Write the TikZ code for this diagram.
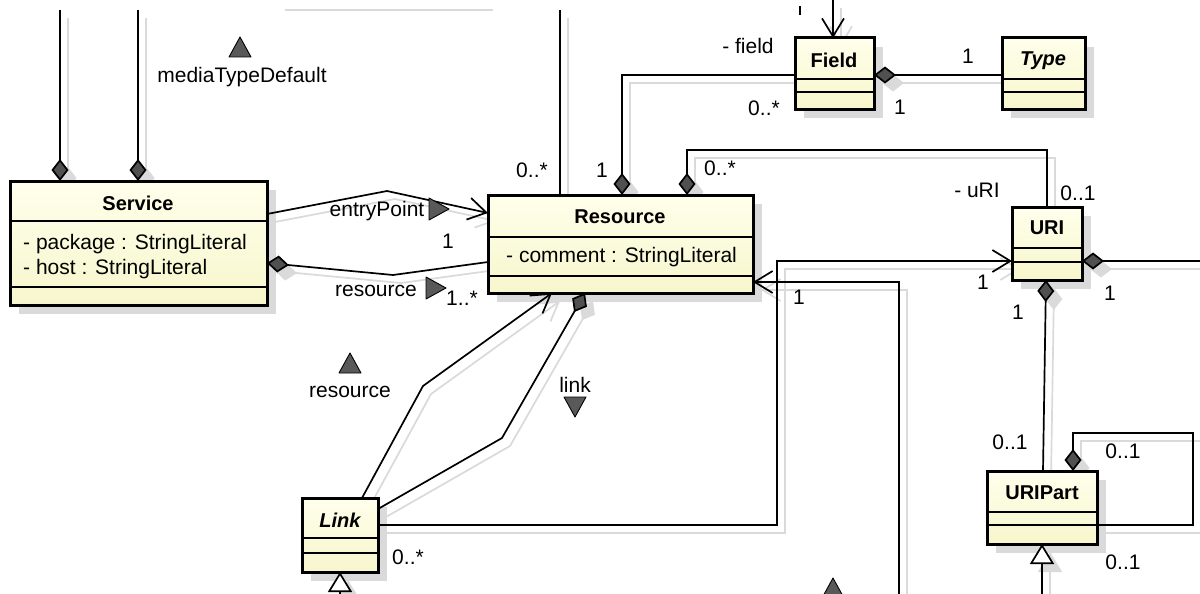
\documentclass[tikz,border=0pt]{standalone}
\usepackage{fontspec}
\setmainfont{Liberation Sans}
\usetikzlibrary{arrows.meta}
\pgfdeclarelayer{canvasbg}
\pgfdeclarelayer{shade}
\pgfsetlayers{canvasbg,shade,main}

\definecolor{shadowc}{RGB}{218,218,218}
\definecolor{boxtop}{RGB}{255,255,236}
\definecolor{boxbot}{RGB}{247,246,204}
\definecolor{dmdfill}{RGB}{80,80,80}
\colorlet{tipfill}{dmdfill}
\colorlet{tipopen}{white}

\tikzset{
  lbl/.style={inner sep=0pt, font=\fontsize{21}{25}\selectfont},
  ttl/.style={inner sep=0pt, font=\fontsize{20}{24}\selectfont\bfseries},
  ttlit/.style={inner sep=0pt, font=\fontsize{20}{24}\selectfont\bfseries\itshape},
  cls/.style={draw=black, line width=3pt, outer sep=0pt, inner sep=0pt,
    anchor=north west, top color=boxtop, bottom color=boxbot},
  sep/.style={line width=2pt},
  conn/.style={line width=1.7pt, line join=miter},
  dmd/.tip={Diamond[length=22pt, width=17pt, fill=tipfill]},
  opn/.tip={Straight Barb[length=18pt, width=22pt]},
  tri/.tip={Triangle[length=20pt, width=24pt, fill=tipopen]},
  dirtri/.style={fill=black!65, draw=black, line width=0.9pt, line join=round},
}

% class box: name, left, top, width, height, first and second compartment offsets
\newcommand\umlclass[7]{%
  \node[cls, minimum width=#4pt, minimum height=#5pt] (#1) at (#2,#3) {};
  \begin{pgfonlayer}{shade}
    \fill[shadowc] ([shift={(9pt,-9pt)}]#1.north west) rectangle ([shift={(9pt,-9pt)}]#1.south east);
  \end{pgfonlayer}
  \draw[sep] ([yshift=-#6pt]#1.north west) -- ([yshift=-#6pt]#1.north east);
  \draw[sep] ([yshift=-#7pt]#1.north west) -- ([yshift=-#7pt]#1.north east);
}

% connector with its drop shadow
\newcommand\conn[2][]{%
  \begin{pgfonlayer}{shade}
    \begin{scope}[transform canvas={shift={(8pt,-8pt)}}]
      \tikzset{dmd/.tip={Diamond[length=22pt, width=17pt, fill=shadowc]},
               tri/.tip={Triangle[length=20pt, width=24pt, fill=shadowc]}}
      \draw[conn, draw=shadowc, #1] #2;
    \end{scope}
  \end{pgfonlayer}
  \draw[conn, #1] #2;
}

% navigability marker: x, y, rotation
\newcommand\dirmark[3]{%
  \filldraw[dirtri, shift={(#1,#2)}, rotate=#3] (-11,10) -- (11,10) -- (0,-10) -- cycle;
}

\begin{document}
\begin{tikzpicture}[x=1pt, y=-1pt]
\useasboundingbox (0,0) rectangle (1200,594);
\begin{pgfonlayer}{canvasbg}
  \fill[white] (0,0) rectangle (1200,594);
\end{pgfonlayer}

% classes
\umlclass{svc}{10}{181}{257}{124}{40}{106}
\umlclass{res}{488}{195}{265}{98}{42}{81}
\umlclass{fld}{795}{38}{79}{71}{41}{54}
\umlclass{typ}{1002}{38}{83}{71}{41}{54}
\umlclass{uri}{1012}{207}{70}{73}{41}{55}
\umlclass{urip}{987}{471}{110}{73}{41}{54}
\umlclass{lnk}{302}{498}{76}{74}{40}{55}

\node[ttl] (svc-n) at (138,203) {Service};
\node[lbl, anchor=west, align=left] (svc-a) at (23,257) {- package : StringLiteral\\- host : StringLiteral};
\node[ttl] (res-n) at (620,217) {Resource};
\node[lbl, anchor=west] (res-a) at (506,257) {- comment : StringLiteral};
\node[ttl] (fld-n) at (834,60) {Field};
\node[ttlit] (typ-n) at (1043,61) {Type};
\node[ttl] (uri-n) at (1047,228) {URI};
\node[ttl] (urip-n) at (1042,493) {URIPart};
\node[ttlit] (lnk-n) at (340,520) {Link};

% associations leaving the view at the top
\begin{pgfonlayer}{shade}
  \draw[conn, draw=shadowc] (285,10) -- (493,10);
\end{pgfonlayer}
\conn[-dmd]{(60,10) -- ([xshift=50pt]svc.north west)}
\conn[-dmd]{(138,10) -- ([xshift=128pt]svc.north west)}
\conn{(560,10) -- ([xshift=72pt]res.north west)}
\conn[-opn]{(833,0) -- ([xshift=38pt]fld.north west)}
\draw[line width=2pt] (800,6) -- (800,15);

% Service - Resource
\conn[-opn]{([yshift=-33pt]svc.north east) -- (387,191) -- ([yshift=-18pt]res.north west)}
\conn[dmd-]{([yshift=-82pt]svc.north east) -- (393,275) -- ([yshift=-67pt]res.north west)}

% Resource - Field - Type
\conn[-dmd]{([yshift=-37pt]fld.north west) -| ([xshift=134pt]res.north west)}
\conn[dmd-]{([yshift=-37pt]fld.north east) -- ([yshift=-37pt]typ.north west)}

% Resource - URI
\conn[-dmd]{([xshift=35pt]uri.north west) -- ++(0,-57) -| ([xshift=199pt]res.north west)}

% Link - Resource
\conn[-opn]{([xshift=60pt]lnk.north west) -- (423,386) -- ([xshift=64pt]res.south west)}
\conn[-dmd]{([yshift=-11pt]lnk.north east) -- (502,438) -- ([xshift=97pt]res.south west)}

% Link - URI
\conn[-opn]{([yshift=-27pt]lnk.north east) -- (777,525) -- (777,261) -- ([yshift=-54pt]uri.north west)}

% association entering Resource from below
\conn[-opn]{(899,594) |- ([yshift=-87pt]res.north east)}

% URI and URIPart
\conn[dmd-]{([yshift=-54pt]uri.north east) -- (1200,261)}
\conn[dmd-]{([xshift=34pt]uri.south west) -- ([xshift=56pt]urip.north west)}
\conn[-dmd]{([yshift=-54pt]urip.north east) -- (1193,525) -- (1193,433) -| ([xshift=86pt]urip.north west)}

% generalizations
\conn[-tri]{(1042,594) -- ([xshift=55pt]urip.south west)}
\conn[-tri]{(340,594) -- ([xshift=38pt]lnk.south west)}

% role names and multiplicities
\node[lbl] (l-mtd) at (242,77) {mediaTypeDefault};
\node[lbl] (l-ep) at (377,211) {entryPoint};
\node[lbl] (l-ep1) at (448,241) {1};
\node[lbl] (l-rs) at (376,291) {resource};
\node[lbl] (l-rsm) at (462,298) {1..*};
\node[lbl] (l-r0) at (532,170) {0..*};
\node[lbl] (l-f1) at (602,170) {1};
\node[lbl] (l-u0) at (720,168) {0..*};
\node[lbl] (l-fr) at (748,46) {- field};
\node[lbl] (l-fm) at (764,108) {0..*};
\node[lbl] (l-t1) at (968,56) {1};
\node[lbl] (l-t2) at (900,107) {1};
\node[lbl] (l-ur) at (977,190) {- uRI};
\node[lbl] (l-um) at (1078,193) {0..1};
\node[lbl] (l-ul) at (983,282) {1};
\node[lbl] (l-ur1) at (1110,293) {1};
\node[lbl] (l-ub) at (1018,312) {1};
\node[lbl] (l-pt) at (1010,442) {0..1};
\node[lbl] (l-ls) at (1123,451) {0..1};
\node[lbl] (l-le) at (1123,562) {0..1};
\node[lbl] (l-rr) at (799,297) {1};
\node[lbl] (l-lk) at (408,557) {0..*};
\node[lbl] (l-lr) at (350,392) {resource};
\node[lbl] (l-ln) at (575,385) {link};

% navigability markers
\dirmark{240}{47}{0}
\dirmark{439}{209}{-90}
\dirmark{436}{288}{-90}
\dirmark{350}{363}{0}
\dirmark{575}{407}{180}
\dirmark{833}{588}{0}
\end{tikzpicture}
\end{document}
